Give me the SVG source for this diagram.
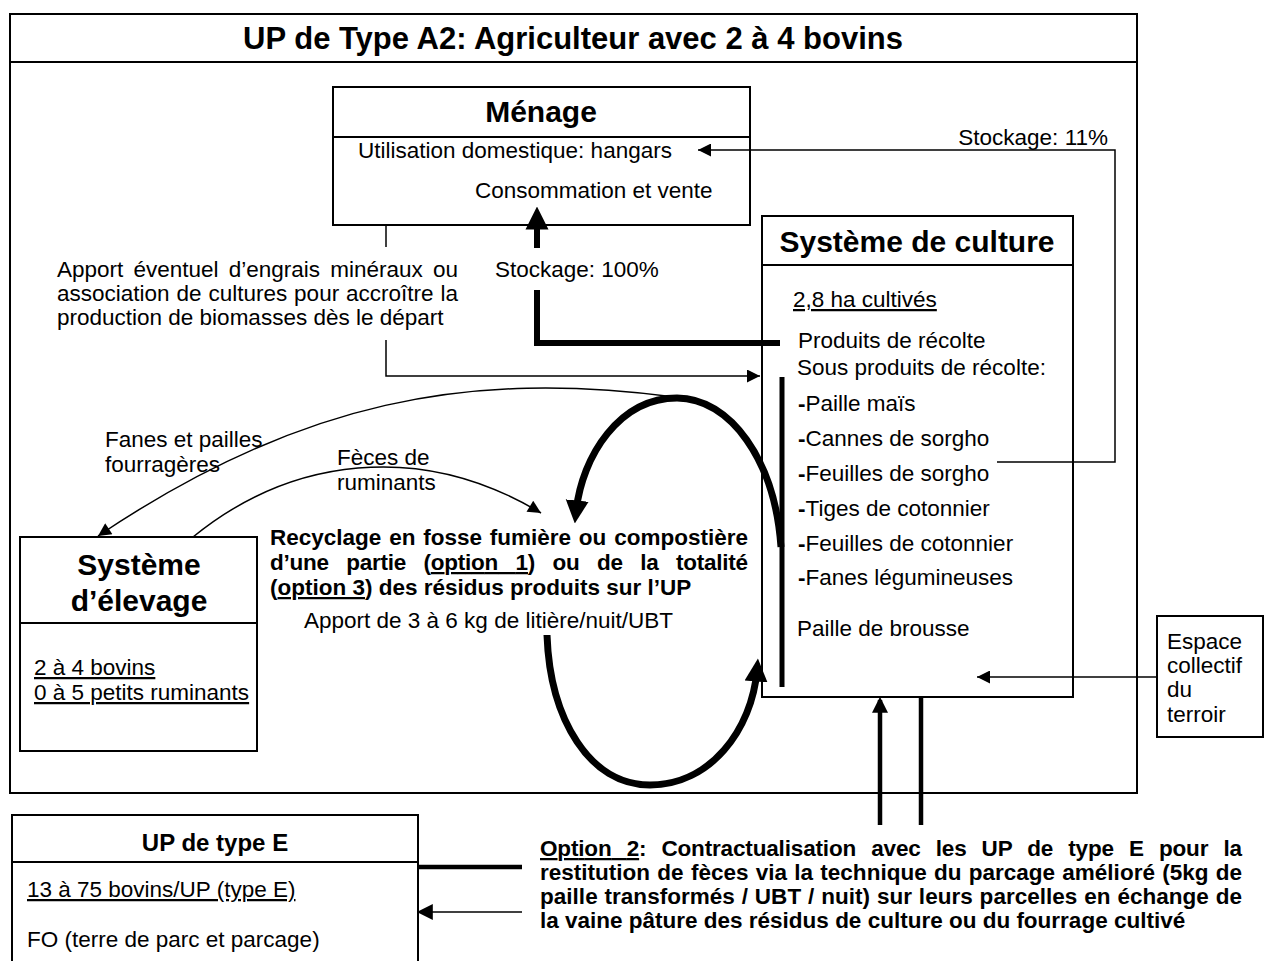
<svg xmlns="http://www.w3.org/2000/svg" width="1265" height="961" viewBox="0 0 1265 961">
<defs>
<style>
text{font-family:"Liberation Sans",Arial,Helvetica,sans-serif;font-size:22.5px;fill:#000}
.b{font-weight:bold}
.h{font-weight:bold;font-size:30px}
.h2{font-weight:bold;font-size:24px}
.u{text-decoration:underline}
.box{fill:#fff;stroke:#000;stroke-width:2}
.sep{stroke:#000;stroke-width:2}
.thin{fill:none;stroke:#000;stroke-width:1.5}
.thick{fill:none;stroke:#000;stroke-width:6}
.curve{fill:none;stroke:#000;stroke-width:7}
.med{fill:none;stroke:#000;stroke-width:4.5}
</style>
<marker id="ah" viewBox="0 0 10 10" refX="10" refY="5" markerWidth="15" markerHeight="13" markerUnits="userSpaceOnUse" orient="auto"><path d="M0,0 L10,5 L0,10 z"/></marker>
<marker id="ahM" viewBox="0 0 10 10" refX="8" refY="5" markerWidth="17" markerHeight="16" markerUnits="userSpaceOnUse" orient="auto"><path d="M0,0 L10,5 L0,10 z"/></marker>
<marker id="ahT" viewBox="0 0 10 10" refX="5" refY="5" markerWidth="23" markerHeight="25" markerUnits="userSpaceOnUse" orient="auto"><path d="M0,0 L10,5 L0,10 z"/></marker>
</defs>

<g id="up-a2">
<rect class="box" x="10" y="14" width="1127" height="779"/>
<line class="sep" x1="10" y1="62" x2="1137" y2="62"/>
<text class="h" x="573" y="49" text-anchor="middle" style="font-size:31px">UP de Type A2: Agriculteur avec 2 à 4 bovins</text>
</g>

<g id="menage">
<rect class="box" x="333" y="87" width="417" height="138"/>
<line class="sep" x1="333" y1="137" x2="750" y2="137"/>
<text class="h" x="541" y="122" text-anchor="middle">Ménage</text>
<text x="358" y="158">Utilisation domestique: hangars</text>
<text x="475" y="198">Consommation et vente</text>
</g>

<g id="systeme-culture">
<rect class="box" x="762" y="216" width="311" height="481"/>
<line class="sep" x1="762" y1="265" x2="1073" y2="265"/>
<text class="h" x="917" y="252" text-anchor="middle">Système de culture</text>
<text class="u" x="793" y="307">2,8 ha cultivés</text>
<text x="798" y="348">Produits de récolte</text>
<text x="797" y="375">Sous produits de récolte:</text>
<text x="798" y="411"><tspan class="b">-</tspan>Paille maïs</text>
<text x="798" y="446"><tspan class="b">-</tspan>Cannes de sorgho</text>
<text x="798" y="481"><tspan class="b">-</tspan>Feuilles de sorgho</text>
<text x="798" y="516"><tspan class="b">-</tspan>Tiges de cotonnier</text>
<text x="798" y="551"><tspan class="b">-</tspan>Feuilles de cotonnier</text>
<text x="798" y="585"><tspan class="b">-</tspan>Fanes légumineuses</text>
<text x="797" y="636">Paille de brousse</text>
<line x1="782" y1="377" x2="782" y2="687" stroke="#000" stroke-width="5"/>
</g>

<g id="systeme-elevage">
<rect class="box" x="20" y="537" width="237" height="214"/>
<line class="sep" x1="20" y1="623" x2="257" y2="623"/>
<text class="h" x="139" y="575" text-anchor="middle">Système</text>
<text class="h" x="139" y="611" text-anchor="middle">d’élevage</text>
<text class="u" x="34" y="675">2 à 4 bovins</text>
<text class="u" x="34" y="700">0 à 5 petits ruminants</text>
</g>

<g id="espace-collectif">
<rect class="box" x="1157" y="616" width="106" height="121"/>
<text x="1167" y="649">Espace</text>
<text x="1167" y="673">collectif</text>
<text x="1167" y="697">du</text>
<text x="1167" y="722">terroir</text>
</g>

<g id="up-type-e">
<rect class="box" x="12" y="815" width="406" height="160"/>
<line class="sep" x1="12" y1="862" x2="418" y2="862"/>
<text class="h2" x="215" y="851" text-anchor="middle">UP de type E</text>
<text class="u" x="27" y="897">13 à 75 bovins/UP (type E)</text>
<text x="27" y="947">FO (terre de parc et parcage)</text>
</g>

<g id="labels">
<text x="1108" y="145" text-anchor="end">Stockage: 11%</text>
<text x="495" y="277">Stockage: 100%</text>
<text x="57" y="277" word-spacing="4" textLength="401" lengthAdjust="spacing">Apport éventuel d’engrais minéraux ou</text>
<text x="57" y="301" word-spacing="0.6" textLength="401" lengthAdjust="spacing">association de cultures pour accroître la</text>
<text x="57" y="325">production de biomasses dès le départ</text>
<text x="105" y="447">Fanes et pailles</text>
<text x="105" y="472">fourragères</text>
<text x="337" y="465">Fèces de</text>
<text x="337" y="490">ruminants</text>
<text class="b" x="270" y="545" word-spacing="1.5" textLength="478" lengthAdjust="spacing">Recyclage en fosse fumière ou compostière</text>
<text class="b" x="270" y="570" word-spacing="11.5" textLength="478" lengthAdjust="spacing">d’une partie (<tspan class="u">option 1</tspan>) ou de la totalité</text>
<text class="b" x="270" y="595">(<tspan class="u">option 3</tspan>) des résidus produits sur l’UP</text>
<text x="304" y="628">Apport de 3 à 6 kg de litière/nuit/UBT</text>
<text class="b" x="540" y="856" word-spacing="9" textLength="702" lengthAdjust="spacing"><tspan class="u">Option 2</tspan>: Contractualisation avec les UP de type E pour la</text>
<text class="b" x="540" y="880" word-spacing="1" textLength="702" lengthAdjust="spacing">restitution de fèces via la technique du parcage amélioré (5kg de</text>
<text class="b" x="540" y="904" word-spacing="0.6" textLength="702" lengthAdjust="spacing">paille transformés / UBT / nuit) sur leurs parcelles en échange de</text>
<text class="b" x="540" y="928">la vaine pâture des résidus de culture ou du fourrage cultivé</text>
</g>

<g id="connectors">
<polyline class="thin" points="997,462 1115,462 1115,150 698,150" marker-end="url(#ah)"/>
<line class="thin" x1="386" y1="225" x2="386" y2="247"/>
<polyline class="thin" points="386,340 386,376 760,376" marker-end="url(#ah)"/>
<polyline class="thick" points="780,343 537,343 537,290"/>
<line class="thick" x1="537" y1="248" x2="537" y2="218" marker-end="url(#ahT)"/>
<path class="thin" d="M675,397 C470,370 300,400 98,536" marker-end="url(#ah)"/>
<path class="thin" d="M193,537 C290,458 420,440 541,513" marker-end="url(#ah)"/>
<path class="curve" d="M781,547 C775,460 730,398 677,398 C620,398 582,455 576,512" marker-end="url(#ahT)"/>
<path class="curve" d="M547,635 C550,720 590,785 650,785 C710,785 752,730 757,670" marker-end="url(#ahT)"/>
<line class="thin" x1="1157" y1="677" x2="977" y2="677" marker-end="url(#ah)"/>
<line class="med" x1="880" y1="825" x2="880" y2="700" marker-end="url(#ahM)"/>
<line class="med" x1="921" y1="698" x2="921" y2="825"/>
<line class="med" x1="418" y1="867" x2="522" y2="867"/>
<line class="thin" x1="522" y1="912" x2="420" y2="912" stroke-width="3" marker-end="url(#ahM)"/>
</g>
</svg>
